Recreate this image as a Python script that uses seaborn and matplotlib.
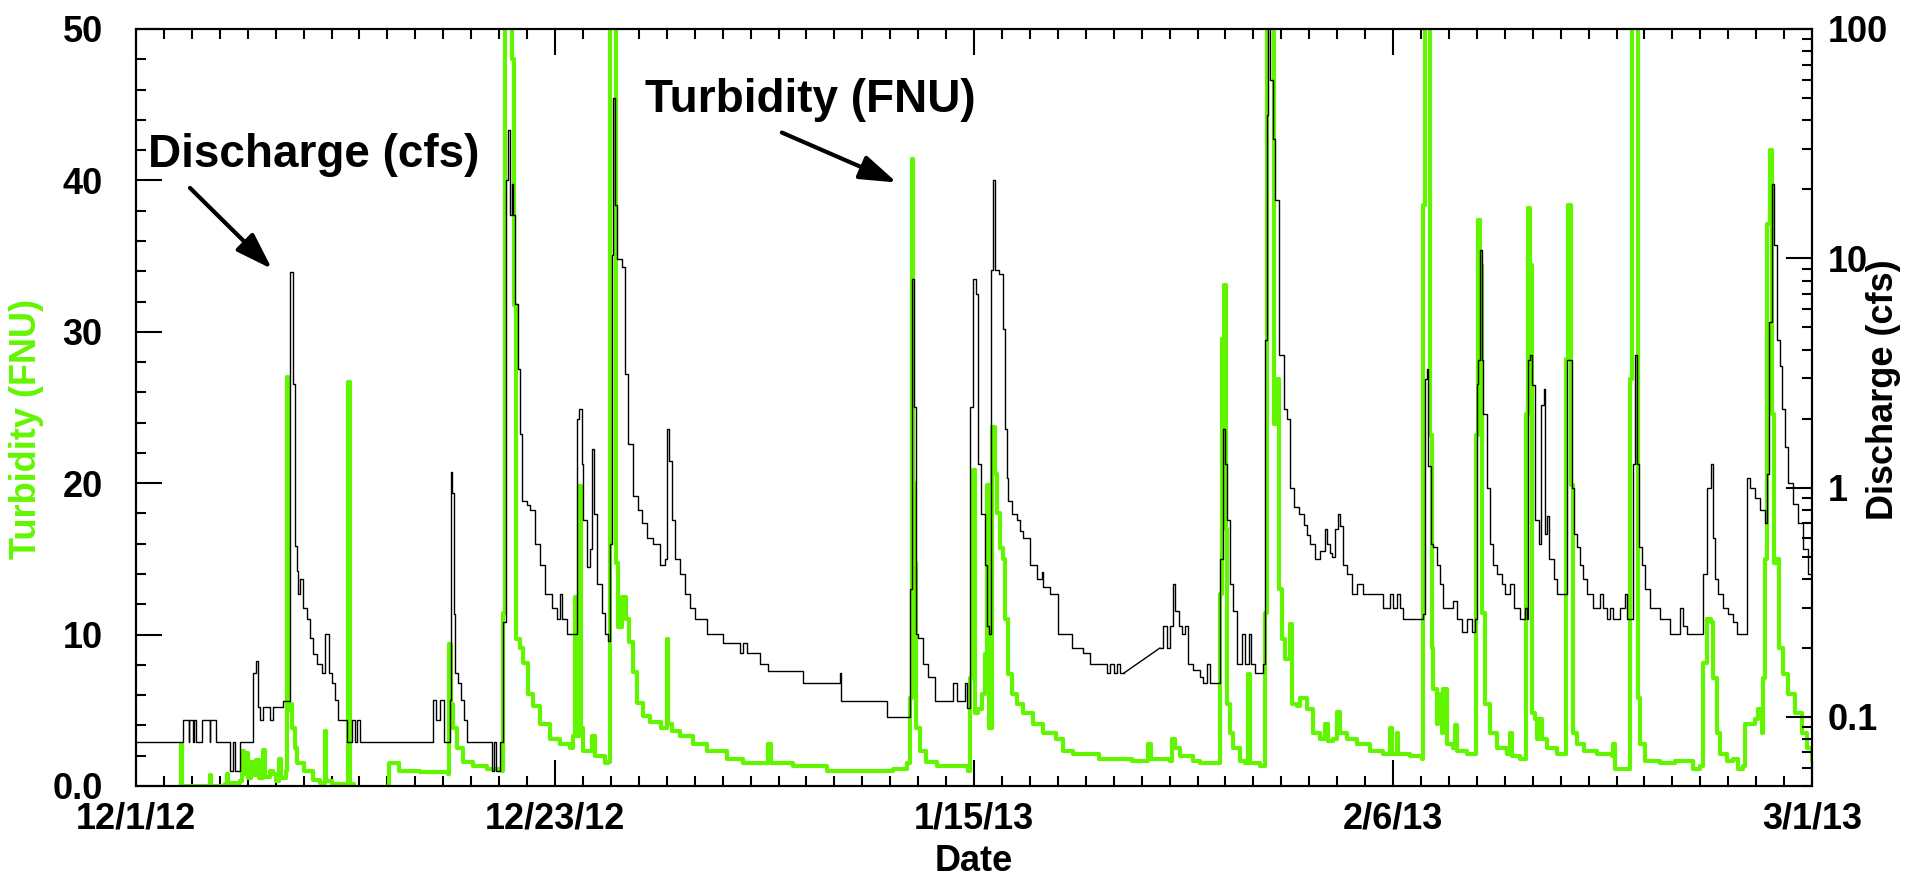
import numpy as np
import pandas as pd
import seaborn as sns
import matplotlib
matplotlib.use("Agg")
import matplotlib.pyplot as plt
import matplotlib.dates as mdates
from matplotlib.ticker import MultipleLocator, FixedLocator, FixedFormatter, LogLocator, NullFormatter

# --- data, days counted from 12/1/12 (nan = gap in the record) ---
START = pd.Timestamp("2012-12-01")

turb_days = [
    2.36, 2.40, 2.46, 3.90, 3.97, 4.05, 4.80, 4.87, 4.95, 5.60,
    5.70, 5.80, 5.90, 6.00, 6.20, 6.30, 6.45, 6.60, 6.80, 6.90,
    7.20, 7.35, 7.50, 7.70, 7.80, 8.05, 8.10, 8.15, 8.27, 8.40,
    8.55, 8.65, 9.00, 9.50, 9.90, 10.10, 10.15, 10.20, 10.50, 11.30,
    11.40, 11.50, 11.70, 12.50,
    13.55, 13.56, 14.00, 14.10, 15.25, 16.75, 16.80, 16.90, 17.04, 17.22,
    17.58, 18.11, 18.83, 19.63, 19.72, 19.80, 20.07, 20.17, 20.30, 20.40,
    20.62, 20.80, 21.07, 21.34, 21.69, 22.23, 22.76, 23.30, 23.48, 23.57,
    23.66, 23.80, 23.89, 24.02, 24.47, 24.65, 25.18, 25.36, 25.45, 25.72,
    25.80, 25.90, 26.10, 26.30, 26.45, 26.70, 26.90, 27.20, 27.60, 28.20,
    28.45, 28.50, 28.58, 28.76, 29.21, 29.93, 30.64, 31.72, 32.61, 33.86,
    33.95, 34.08, 35.30, 37.09, 38.88, 40.67, 41.38, 41.55, 41.65, 41.72,
    41.80, 41.90, 42.10, 42.40, 43.00, 44.00, 44.70, 44.78, 44.92, 45.05,
    45.23, 45.41, 45.59, 45.68, 45.79, 45.95, 46.13, 46.25, 46.39, 46.57,
    46.66, 46.84, 47.02, 47.29, 47.64, 48.18, 48.72, 49.40, 49.76, 50.30,
    51.70, 53.50, 54.26, 54.35, 54.50, 55.53, 55.62, 55.80, 56.06, 56.78,
    57.14, 58.12, 58.21, 58.30, 58.43, 58.53, 58.60, 58.75, 58.93, 59.29,
    59.56, 59.69, 59.80, 60.38, 60.54, 60.63, 60.72, 60.99, 61.08, 61.12,
    61.22, 61.35, 61.53, 61.71, 61.98, 62.09, 62.34, 62.50, 62.86, 63.22,
    63.57, 63.84, 64.02, 64.29, 64.47, 64.65, 65.00, 65.55, 66.26, 66.98,
    67.33, 67.42, 67.70, 67.79, 68.41, 69.03, 69.12, 69.21, 69.44, 69.48,
    69.57, 69.66, 69.84, 69.93, 70.11, 70.20, 70.38, 70.74, 70.83, 70.92,
    71.46, 71.90, 71.95, 72.08, 72.17, 72.26, 72.44, 72.71, 73.07, 73.61,
    73.79, 73.88, 74.33, 74.59, 74.65, 74.72, 74.86, 74.95, 75.13, 75.22,
    75.35, 75.49, 75.76, 76.30, 76.65, 76.79, 76.92, 77.04, 77.15, 77.37,
    77.73, 78.43, 79.24, 79.33, 79.42, 80.05, 80.20, 80.32, 80.59, 80.63,
    80.76, 81.03, 81.83, 82.64, 83.63, 83.98, 84.16, 84.34, 84.55, 84.70,
    84.87, 85.05, 85.41, 85.77, 86.04, 86.30, 86.39, 86.66, 86.93, 87.11,
    87.29, 87.38, 87.47, 87.60, 87.74, 87.85, 87.94, 88.10, 88.24, 88.45,
    88.72, 89.08, 89.44, 89.71, 89.98,
]
turb_fnu = [
    0.0, 2.8, 0.0, 0.0, 0.7, 0.0, 0.1, 0.8, 0.2, 0.3,
    2.3, 0.8, 2.2, 0.5, 1.6, 0.7, 1.7, 0.5, 2.4, 0.6,
    1.0, 0.8, 0.3, 1.8, 0.5, 1.0, 27.0, 5.0, 5.4, 3.8,
    2.5, 1.5, 1.0, 0.4, 0.2, 0.2, 3.6, 0.3, 0.1, 0.1,
    26.7, 0.1, 0.0, np.nan,
    0.0, 1.5, 1.5, 1.0, 0.9, 0.82, 9.4, 5.4, 3.8, 2.5,
    1.6, 1.3, 1.15, 1.0, 11.4, 55, 55, 48, 31.8, 9.7,
    9.1, 8.1, 6.1, 5.3, 4.1, 3.1, 2.8, 2.5, 3.3, 12.5,
    3.3, 19.8, 3.8, 2.3, 3.3, 2.0, 1.5, 1.6, 55, 55,
    14.7, 10.5, 12.5, 11.0, 9.5, 7.5, 5.5, 4.6, 4.2, 3.8,
    3.8, 9.7, 4.1, 3.6, 3.3, 2.8, 2.3, 1.8, 1.5, 1.5,
    2.8, 1.5, 1.3, 1.0, 1.0, 1.15, 1.5, 5.8, 41.4, 20.0,
    14.7, 3.8, 2.3, 1.6, 1.3, 1.3, 1.0, 7.1, 20.9, 4.8,
    5.1, 6.1, 8.7, 19.9, 3.8, 23.7, 20.6, 18.0, 15.7, 15.0,
    11.0, 7.4, 6.1, 5.4, 4.8, 4.1, 3.5, 3.1, 2.3, 2.1,
    1.8, 1.65, 1.65, 2.8, 1.8, 1.65, 3.1, 2.5, 2.0, 1.65,
    1.5, 1.5, 12.7, 29.5, 33.1, 17.0, 5.4, 3.5, 2.5, 1.65,
    1.5, 7.4, 1.5, 1.3, 1.3, 11.4, 55, 55, 32.5, 23.9,
    26.9, 13.0, 9.7, 8.4, 10.7, 5.4, 5.3, 5.8, 5.1, 3.5,
    3.1, 4.1, 3.0, 3.1, 4.9, 3.5, 3.1, 2.8, 2.3, 2.1,
    3.8, 2.1, 3.5, 2.1, 2.0, 1.8, 38.4, 55, 55, 23.2,
    9.1, 6.4, 4.1, 6.1, 3.5, 6.4, 2.8, 2.5, 4.0, 2.3,
    2.1, 2.1, 23.2, 37.4, 34.4, 11.4, 5.4, 3.5, 2.5, 2.1,
    3.5, 2.0, 1.8, 1.8, 24.6, 38.2, 34.4, 4.8, 4.4, 3.1,
    4.4, 3.1, 2.5, 2.1, 2.1, 28.2, 38.4, 19.9, 3.5, 2.8,
    2.3, 2.1, 2.0, 2.8, 1.15, 1.15, 26.9, 55, 55, 5.8,
    2.8, 1.65, 1.5, 1.65, 1.15, 1.3, 8.1, 11.0, 10.8, 7.1,
    3.5, 2.1, 1.65, 1.8, 1.15, 1.3, 4.1, 4.1, 4.4, 5.1,
    3.5, 7.1, 15.0, 37.1, 42.0, 24.6, 14.7, 15.0, 9.1, 7.4,
    6.1, 4.8, 3.5, 2.5, 1.65,
]

q_days = [
    0.00, 2.54, 2.82, 2.87, 3.05, 3.10, 3.22, 3.53, 3.95, 4.00,
    4.30, 5.05, 5.23, 5.32, 5.58, 6.30, 6.44, 6.53, 6.66, 6.84,
    7.20, 7.37, 7.91, 8.27, 8.41, 8.52, 8.63, 8.72, 8.81, 8.99,
    9.16, 9.34, 9.52, 9.70, 9.97, 10.15, 10.36, 10.51, 10.69, 10.86,
    11.31, 11.58, 11.76, 11.85, 12.03, 15.97, 16.10, 16.30, 16.55, 16.85,
    16.90, 16.97, 17.05, 17.15, 17.30, 17.45, 17.60, 17.80, 19.10, 19.22,
    19.33, 19.55, 19.72, 19.87, 19.98, 20.07, 20.17, 20.26, 20.35, 20.49,
    20.62, 20.71, 20.98, 21.16, 21.43, 21.69, 21.96, 22.32, 22.58, 22.76,
    22.90, 23.13, 23.66, 23.80, 23.93, 24.02, 24.20, 24.38, 24.47, 24.60,
    24.74, 25.01, 25.18, 25.36, 25.45, 25.54, 25.63, 25.72, 25.84, 26.08,
    26.26, 26.44, 26.71, 26.97, 27.15, 27.42, 27.78, 28.14, 28.41, 28.50,
    28.64, 28.76, 28.94, 29.21, 29.48, 29.75, 30.02, 30.64, 31.54, 32.43,
    32.60, 32.80, 33.51, 33.95, 35.83, 37.80, 37.85, 40.31, 41.56, 41.65,
    41.77, 41.88, 42.01, 42.28, 42.55, 42.90, 43.89, 44.07, 44.52, 44.60,
    44.78, 44.96, 45.08, 45.23, 45.36, 45.59, 45.72, 45.82, 45.90, 46.04,
    46.13, 46.36, 46.57, 46.66, 46.75, 46.84, 47.02, 47.29, 47.47, 47.64,
    48.00, 48.36, 48.63, 48.72, 49.08, 49.51, 50.24, 50.87, 51.22, 52.12,
    52.30, 52.50, 52.70, 52.85, 53.03, 54.00, 54.99, 55.17, 55.35, 55.53,
    55.71, 55.80, 55.99, 56.15, 56.33, 56.51, 56.78, 57.14, 57.32, 57.50,
    57.67, 58.21, 58.35, 58.48, 58.57, 58.75, 58.93, 59.11, 59.38, 59.56,
    59.74, 59.87, 60.09, 60.54, 60.63, 60.72, 60.81, 60.90, 61.04, 61.17,
    61.35, 61.62, 61.80, 61.98, 62.16, 62.43, 62.70, 62.86, 63.04, 63.30,
    63.57, 63.84, 63.93, 64.12, 64.20, 64.38, 64.56, 64.65, 64.83, 65.00,
    65.27, 65.55, 65.90, 66.98, 67.33, 67.51, 67.70, 67.88, 68.06, 69.12,
    69.21, 69.30, 69.39, 69.52, 69.66, 69.84, 70.02, 70.20, 70.74, 70.92,
    71.19, 71.46, 71.73, 71.90, 71.99, 72.08, 72.17, 72.26, 72.35, 72.53,
    72.71, 72.89, 73.07, 73.34, 73.52, 73.79, 73.97, 74.33, 74.59, 74.71,
    74.77, 74.86, 74.95, 75.13, 75.31, 75.44, 75.58, 75.67, 75.76, 75.90,
    76.12, 76.30, 76.83, 77.10, 77.19, 77.37, 77.55, 77.72, 77.90, 78.25,
    78.61, 78.75, 78.97, 79.15, 79.33, 79.69, 79.96, 80.05, 80.38, 80.50,
    80.59, 80.73, 80.85, 81.03, 81.30, 81.83, 82.37, 82.91, 83.09, 83.27,
    84.16, 84.34, 84.55, 84.66, 84.79, 84.97, 85.23, 85.50, 85.77, 85.95,
    86.48, 86.66, 86.93, 87.20, 87.47, 87.56, 87.70, 87.83, 87.94, 88.10,
    88.27, 88.36, 88.54, 88.72, 88.99, 89.26, 89.53, 89.80, 89.98,
]
q_cfs = [
    0.078, 0.097, 0.078, 0.097, 0.078, 0.097, 0.078, 0.097, 0.078, 0.097,
    0.078, 0.058, 0.078, 0.058, 0.078, 0.155, 0.175, 0.111, 0.097, 0.111,
    0.097, 0.111, 0.117, 8.7, 2.82, 0.555, 0.432, 0.344, 0.40, 0.30,
    0.268, 0.22, 0.189, 0.171, 0.155, 0.231, 0.155, 0.14, 0.118, 0.097,
    0.078, 0.097, 0.078, 0.097, 0.078, 0.118, 0.097, 0.118, 0.078, 0.118,
    1.17, 0.95, 0.28, 0.155, 0.14, 0.118, 0.097, 0.078, 0.058, 0.078,
    0.058, 0.078, 0.26, 22, 36.4, 15.5, 21, 15.5, 6.3, 3.28,
    1.71, 0.87, 0.84, 0.80, 0.57, 0.46, 0.344, 0.30, 0.268, 0.344,
    0.268, 0.231, 1.99, 2.2, 1.27, 0.72, 0.45, 0.54, 1.47, 0.77,
    0.38, 0.285, 0.231, 0.215, 0.57, 10.3, 50, 17.1, 9.9, 9.2,
    3.12, 1.55, 0.92, 0.80, 0.70, 0.60, 0.57, 0.46, 0.49, 1.8,
    1.30, 0.72, 0.49, 0.42, 0.344, 0.30, 0.268, 0.231, 0.21, 0.19,
    0.21, 0.19, 0.17, 0.158, 0.14, 0.155, 0.117, 0.10, 0.36, 8.1,
    2.24, 0.23, 0.22, 0.17, 0.15, 0.117, 0.14, 0.117, 0.14, 0.109,
    2.25, 8.1, 7.0, 1.27, 0.77, 0.46, 0.25, 0.23, 8.9, 22,
    8.9, 8.5, 4.9, 1.8, 1.1, 0.87, 0.77, 0.72, 0.65, 0.60,
    0.46, 0.40, 0.43, 0.37, 0.344, 0.23, 0.20, 0.19, 0.17, 0.155,
    0.17, 0.155, 0.17, 0.155, 0.155, np.nan, 0.20, 0.25, 0.20, 0.25,
    0.38, 0.29, 0.25, 0.23, 0.25, 0.17, 0.16, 0.15, 0.14, 0.17,
    0.14, 0.49, 1.8, 1.27, 0.72, 0.38, 0.29, 0.17, 0.23, 0.17,
    0.23, 0.17, 0.155, 0.17, 4.4, 42, 120, 60, 33, 18,
    3.8, 2.2, 2.0, 1.0, 0.82, 0.77, 0.69, 0.62, 0.57, 0.49,
    0.53, 0.66, 0.57, 0.52, 0.50, 0.66, 0.77, 0.68, 0.46, 0.42,
    0.344, 0.38, 0.344, 0.30, 0.344, 0.30, 0.344, 0.30, 0.268, 0.28,
    2.97, 3.3, 1.24, 0.57, 0.55, 0.46, 0.38, 0.30, 0.32, 0.268,
    0.235, 0.268, 0.235, 0.268, 2.82, 3.6, 10.9, 3.6, 2.1, 1.0,
    0.57, 0.46, 0.42, 0.38, 0.344, 0.38, 0.30, 0.268, 0.30, 0.268,
    3.6, 3.8, 2.8, 0.72, 0.57, 2.3, 2.7, 0.63, 0.75, 0.49,
    0.40, 0.344, 3.6, 1.0, 0.63, 0.55, 0.46, 0.40, 0.344, 0.30,
    0.344, 0.30, 0.268, 0.30, 0.268, 0.30, 0.344, 0.268, 1.27, 3.8,
    1.27, 0.55, 0.46, 0.36, 0.30, 0.268, 0.231, 0.30, 0.25, 0.231,
    0.42, 1.0, 1.27, 0.60, 0.40, 0.344, 0.30, 0.28, 0.26, 0.231,
    1.1, 1.0, 0.9, 0.8, 0.70, 1.15, 5.3, 21, 11.4, 4.4,
    3.4, 2.2, 1.5, 1.05, 0.85, 0.70, 0.54, 0.42, 0.39,
]

tick_days = [0, 22.5, 45, 67.5, 90]
tick_labels = ["12/1/12", "12/23/12", "1/15/13", "2/6/13", "3/1/13"]
turb_ticks = [0, 10, 20, 30, 40, 50]
turb_tick_labels = ["0.0", "10", "20", "30", "40", "50"]
q_ticks = [0.1, 1, 10, 100]
q_tick_labels = ["0.1", "1", "10", "100"]

GREEN = "#62f500"


def to_frame(days, vals):
    d = pd.DataFrame({"day": days, "val": vals})
    d["run"] = d["val"].isna().cumsum()
    d = d.dropna().copy()
    d["date"] = START + pd.to_timedelta(d["day"], unit="D")
    return d


turb = to_frame(turb_days, turb_fnu)
flow = to_frame(q_days, q_cfs)

sns.set_theme(style="ticks")
plt.rcParams["font.family"] = ["Liberation Sans", "DejaVu Sans"]
plt.rcParams["font.weight"] = "bold"
plt.rcParams["axes.labelweight"] = "bold"
plt.rcParams["text.color"] = "black"
plt.rcParams["axes.labelcolor"] = "black"

fig = plt.figure(figsize=(19.21, 8.84), dpi=100)
ax = fig.add_axes([0.0708, 0.1109, 0.8725, 0.8563])

sns.lineplot(data=turb, x="date", y="val", units="run", estimator=None, sort=False,
             color=GREEN, lw=3.0, drawstyle="steps-post", ax=ax)

ax2 = ax.twinx()
ax2.set_yscale("log")
sns.lineplot(data=flow, x="date", y="val", units="run", estimator=None, sort=False,
             color="black", lw=1.0, drawstyle="steps-post", ax=ax2)
# missing stretch of discharge record is bridged by a straight line
before = flow[flow["run"] == 0].iloc[-1]
after = flow[flow["run"] == 1].iloc[0]
ax2.plot([before["date"], after["date"]], [before["val"], after["val"]], color="black", lw=1.0)

# x axis
ax.set_xlim(START, START + pd.Timedelta(days=90))
ax.set_xticks([START + pd.Timedelta(days=d) for d in tick_days])
ax.set_xticklabels(tick_labels)
ax.xaxis.set_minor_locator(MultipleLocator(1.5))

# left axis
ax.set_ylim(0, 50)
ax.set_yticks(turb_ticks)
ax.set_yticklabels(turb_tick_labels)
ax.yaxis.set_minor_locator(MultipleLocator(2))

# right axis
ax2.set_ylim(0.05, 100)
ax2.yaxis.set_major_locator(FixedLocator(q_ticks))
ax2.yaxis.set_major_formatter(FixedFormatter(q_tick_labels))
ax2.yaxis.set_minor_locator(LogLocator(base=10, subs=np.arange(2, 10)))
ax2.yaxis.set_minor_formatter(NullFormatter())

for a in (ax, ax2):
    for s in a.spines.values():
        s.set_linewidth(1.5)
        s.set_color("black")

ax.tick_params(axis="both", which="both", direction="in", width=1.5, colors="black", labelsize=26)
ax.tick_params(which="major", length=19)
ax.tick_params(which="minor", length=7)
ax.tick_params(axis="x", which="both", top=True, bottom=True, pad=11)
ax.tick_params(axis="y", which="both", left=True, right=False, pad=24)
ax2.tick_params(axis="y", which="both", direction="in", width=1.5, right=True, left=False,
                labelsize=26, pad=11, colors="black")
ax2.tick_params(which="major", length=19)
ax2.tick_params(which="minor", length=7)

ax.set_xlabel("Date", fontsize=26, fontweight="bold", color="black")
ax.xaxis.set_label_coords(0.5, -0.077)
ax.set_ylabel("Turbidity (FNU)", fontsize=26, fontweight="bold", color=GREEN)
ax.yaxis.set_label_coords(-0.055, 0.472)
ax2.set_ylabel("Discharge (cfs)", fontsize=26, fontweight="bold", color="black")
ax2.yaxis.set_label_coords(1.032, 0.523)

# callouts
x0 = mdates.date2num(START)
arrow = dict(arrowstyle="-|>,head_length=0.9,head_width=0.3", color="black", lw=3,
             shrinkA=0, shrinkB=0, mutation_scale=25)
ax.text(x0 + 9.56, 41.7, "Discharge (cfs)", fontsize=33, fontweight="bold",
        color="black", ha="center", va="center")
ax.annotate("", xy=(x0 + 7.30, 34.15), xytext=(x0 + 2.9, 39.5), arrowprops=arrow)
ax.text(x0 + 36.2, 45.3, "Turbidity (FNU)", fontsize=33, fontweight="bold",
        color="black", ha="center", va="center")
ax.annotate("", xy=(x0 + 40.85, 39.86), xytext=(x0 + 34.68, 43.16), arrowprops=arrow)

fig.savefig("out.png", dpi=100)
